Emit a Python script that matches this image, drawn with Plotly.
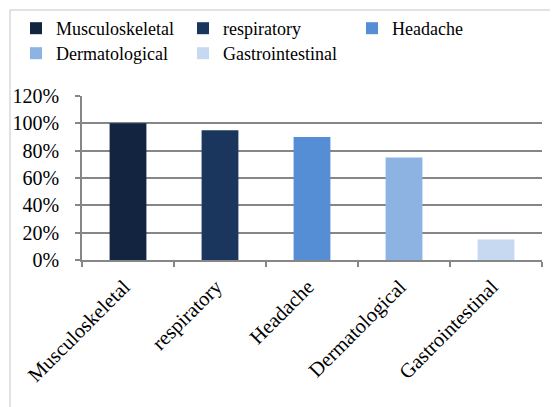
import plotly.graph_objects as go

categories = ["Musculoskeletal", "respiratory", "Headache", "Dermatological", "Gastrointestinal"]
values = [1.00, 0.95, 0.90, 0.75, 0.15]
colors = ["#12243F", "#1A365D", "#558ED5", "#8DB3E2", "#C6D9F1"]
legend_ids = ["legend", "legend", "legend3", "legend2", "legend2"]
y_ticks = [0, 0.2, 0.4, 0.6, 0.8, 1.0, 1.2]
y_ticklabels = ["0%", "20%", "40%", "60%", "80%", "100%", "120%"]

FONT = "Liberation Serif, Times New Roman, serif"
# page body has an 8px margin, so the figure is drawn 8px in from the window edges
W, H = 550, 399

fig = go.Figure()
for cat, val, col, lg in zip(categories, values, colors, legend_ids):
    fig.add_trace(go.Bar(x=[cat], y=[val], name=cat, marker_color=col,
                         marker_line_width=0, width=0.4, legend=lg))

leg_common = dict(orientation="h", xanchor="left", yanchor="top",
                  xref="container", yref="container",
                  entrywidth=122, font=dict(family=FONT, size=18, color="black"),
                  traceorder="normal", bgcolor="rgba(0,0,0,0)", borderwidth=0)

fig.update_layout(
    width=W, height=H,
    paper_bgcolor="white", plot_bgcolor="white",
    barmode="overlay",
    margin=dict(l=74, r=16, t=88, b=147, autoexpand=False),
    font=dict(family=FONT, size=17, color="black"),
    legend=dict(x=8 / W, y=1 - 2 / H, **leg_common),
    legend3=dict(x=(8 + 336) / W, y=1 - 2 / H, **leg_common),
    legend2=dict(x=8 / W, y=1 - 27 / H, **leg_common),
    showlegend=True,
)
fig.update_xaxes(
    type="category", categoryorder="array", categoryarray=categories,
    tickangle=-45, tickson="boundaries", ticks="outside", ticklen=5,
    tickcolor="#868686", tickwidth=1.5,
    showline=True, linecolor="#868686", linewidth=1.5,
    showgrid=False, tickfont=dict(family=FONT, size=20.5, color="black"),
    ticklabelshift=-4, ticklabelstandoff=5,
)
fig.update_yaxes(
    range=[0, 1.2], tickvals=y_ticks, ticktext=y_ticklabels,
    ticks="outside", ticklen=5, tickcolor="#868686", tickwidth=1.5,
    showline=True, linecolor="#868686", linewidth=1.5,
    showgrid=True, gridcolor="#868686", gridwidth=1.5,
    tickfont=dict(family=FONT, size=20, color="black"), zeroline=False,
    ticklabelstandoff=12,
)
fig.add_shape(type="rect", xref="paper", yref="paper",
              x0=(2 - 74) / 460, x1=2, y0=-2, y1=1 + (88 - 2) / 164,
              line=dict(color="#D9D9D9", width=1.5), fillcolor="rgba(0,0,0,0)",
              layer="below")

fig.write_html("out.html")
